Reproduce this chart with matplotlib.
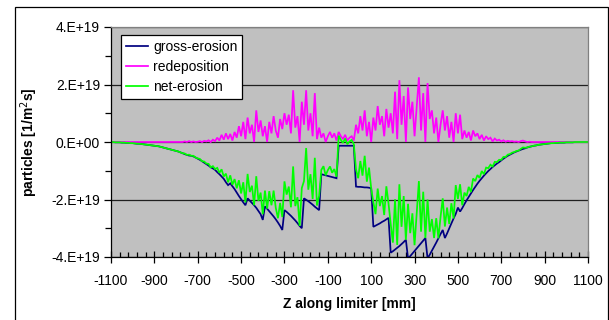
import numpy as np
import matplotlib
matplotlib.use('Agg')
import matplotlib.pyplot as plt
from matplotlib.patches import Rectangle

plt.rcParams['font.family'] = ['Liberation Sans', 'DejaVu Sans']

# ---- data (values in units of 1E19 particles / m^2 s) ----
z_start, z_stop, z_step = -1100, 1100, 10
z_mm = np.arange(z_start, z_stop + z_step, z_step)

gross_erosion = [
    0.00, 0.00, -0.01, -0.01, -0.01, -0.02, -0.02, -0.03, -0.03, -0.04,
    -0.04, -0.05, -0.06, -0.06, -0.07, -0.08, -0.09, -0.10, -0.11, -0.12,
    -0.13, -0.14, -0.15, -0.17, -0.19, -0.21, -0.23, -0.25, -0.27, -0.29,
    -0.31, -0.33, -0.36, -0.39,
    -0.42, -0.45, -0.47, -0.48, -0.50, -0.54, -0.58, -0.62, -0.67, -0.72,
    -0.77, -0.82, -0.88, -0.92, -0.97, -1.05, -1.12, -1.20, -1.28, -1.40,
    -1.50, -1.44, -1.54, -1.64, -1.76, -1.88, -1.99, -2.10, -2.20,
    -1.96, -2.04, -2.12, -2.20, -2.29, -2.40, -2.51, -2.71,
    -2.24, -2.32, -2.41, -2.50, -2.59, -2.69, -2.80, -2.92, -3.06,
    -2.37, -2.43, -2.50, -2.57, -2.65, -2.73, -2.82, -2.92, -3.00,
    -1.96, -2.01, -2.06, -2.12, -2.18, -2.25, -2.31, -2.37,
    -1.12, -1.14, -1.16, -1.18, -1.20, -1.22, -1.24, -1.26,
    -0.13, -0.13, -0.13, -0.13, -0.13, -0.13, -0.13, -0.13,
    -1.55, -1.56, -1.56, -1.57, -1.58, -1.58, -1.59, -1.61,
    -2.95, -2.91, -2.87, -2.83, -2.78, -2.74, -2.69, -2.64,
    -3.85, -3.80, -3.74, -3.68, -3.62, -3.55, -3.48, -3.40,
    -4.05, -3.97, -3.88, -3.79, -3.70, -3.61, -3.52, -3.43, -3.34,
    -4.05, -3.92, -3.78, -3.64, -3.50, -3.35, -3.20, -3.06,
    -3.34, -3.18, -3.00, -2.83, -2.66, -2.50, -2.28,
    -2.42, -2.30, -2.16, -2.03, -1.91, -1.79, -1.67, -1.56, -1.45, -1.35,
    -1.26, -1.17, -1.09, -1.01, -0.94, -0.87, -0.81, -0.75, -0.70, -0.64,
    -0.58, -0.53, -0.48, -0.44, -0.40, -0.36, -0.33, -0.30, -0.27, -0.24,
    -0.22, -0.19, -0.17,
    -0.15, -0.13, -0.12, -0.10, -0.09, -0.08, -0.07, -0.06, -0.05, -0.04,
    -0.04, -0.03, -0.03, -0.02, -0.02, -0.02, -0.01, -0.01, -0.01, -0.01,
    0.00, 0.00, 0.00, 0.00, 0.00, 0.00, 0.00,
]

redeposition = [
    0.00, 0.00, 0.00, 0.00, 0.00, 0.00, 0.00, 0.00, 0.00, 0.00,
    0.00, 0.00, 0.00, 0.00, 0.00, 0.00, 0.00, 0.00, 0.00, 0.00,
    0.00, 0.00, 0.00, 0.00, 0.00, 0.00, 0.00, 0.00, 0.00, 0.00,
    0.00, 0.00, 0.00, 0.00,
    0.02, 0.00, 0.03, 0.00, 0.02, 0.00, 0.01, 0.03, 0.00, 0.04,
    0.02, 0.06, 0.00, 0.08, 0.03, 0.15, 0.05, 0.25, 0.08, 0.30,
    0.10, 0.28, 0.05, 0.35, 0.15, 0.55, 0.20, 0.70, 0.10,
    0.85, 0.30, 0.60, 0.00, 1.10, 0.35, 0.75, 0.20,
    0.55, 0.00, 0.70, 0.30, 0.90, 0.40, 0.15, 0.80, 0.45,
    1.00, 0.60, 0.95, 0.30, 1.80, 0.50, 0.90, 0.00, 1.40,
    0.60, 1.80, 0.40, 1.00, 0.20, 1.70, 0.10, 0.50,
    0.15, 0.30, 0.00, 0.20, 0.35, 0.15, 0.30, 0.05,
    0.35, 0.20, 0.10, 0.25, 0.05, 0.15, 0.20, 0.05,
    0.60, 0.30, 0.90, 0.40, 1.10, 0.20, 0.70, 0.00,
    0.85, 0.40, 1.25, 0.60, 0.90, 0.20, 1.15, 0.50,
    1.00, 0.30, 1.75, 0.10, 2.15, 0.60, 1.60, 0.00,
    1.90, 0.80, 1.40, 0.20, 1.20, 2.25, 0.40, 1.70, 0.00,
    2.05, 0.80, 1.10, 0.30, 0.85, 0.00, 0.60, 1.10,
    0.40, 0.90, 0.15, 0.70, 0.00, 1.00, 0.30,
    0.95, 0.10, 0.40, 0.15, 0.35, 0.05, 0.40, 0.20, 0.30, 0.10,
    0.25, 0.05, 0.20, 0.10, 0.15, 0.02, 0.12, 0.05, 0.08, 0.02,
    0.06, 0.01, 0.04, 0.02, 0.03, 0.01, 0.02, 0.00, 0.03, 0.05,
    0.02, 0.00, 0.01,
    0.00, 0.00, 0.00, 0.00, 0.00, 0.00, 0.00, 0.00, 0.00, 0.00,
    0.00, 0.00, 0.00, 0.00, 0.00, 0.00, 0.00, 0.00, 0.00, 0.00,
    0.00, 0.00, 0.00, 0.00, 0.00, 0.00, 0.00,
]

net_erosion = [
    0.00, 0.00, -0.01, -0.01, -0.01, -0.02, -0.02, -0.03, -0.03, -0.04,
    -0.04, -0.05, -0.06, -0.06, -0.07, -0.08, -0.09, -0.10, -0.11, -0.12,
    -0.13, -0.14, -0.15, -0.17, -0.19, -0.21, -0.23, -0.25, -0.27, -0.29,
    -0.31, -0.33, -0.36, -0.39,
    -0.40, -0.45, -0.44, -0.48, -0.48, -0.54, -0.57, -0.59, -0.67, -0.68,
    -0.75, -0.76, -0.88, -0.84, -0.94, -0.90, -1.07, -0.95, -1.20, -1.10,
    -1.40, -1.16, -1.49, -1.29, -1.61, -1.33, -1.79, -1.40, -2.10,
    -1.11, -1.74, -1.52, -2.20, -1.19, -2.05, -1.76, -2.51,
    -1.69, -2.32, -1.71, -2.20, -1.69, -2.29, -2.65, -2.12, -2.61,
    -1.37, -1.83, -1.55, -2.27, -0.85, -2.23, -1.92, -2.92, -1.60,
    -1.36, -0.21, -1.66, -1.12, -1.98, -0.55, -2.21, -1.87,
    -0.97, -0.84, -1.16, -0.98, -0.85, -1.07, -0.94, -1.21,
    0.22, 0.07, -0.03, 0.12, -0.08, 0.02, 0.07, -0.08,
    -0.95, -1.26, -0.66, -1.17, -0.48, -1.38, -0.89, -1.61,
    -2.10, -2.51, -1.62, -2.23, -1.88, -2.54, -1.54, -2.14,
    -2.85, -3.50, -1.99, -3.58, -1.47, -2.95, -1.88, -3.40,
    -2.15, -3.17, -2.48, -3.59, -2.50, -1.36, -3.12, -1.73, -3.34,
    -2.00, -3.12, -2.68, -3.34, -2.65, -3.35, -2.60, -1.96,
    -2.94, -2.28, -2.85, -2.13, -2.66, -1.50, -1.98,
    -1.47, -2.20, -1.76, -1.88, -1.56, -1.74, -1.27, -1.36, -1.15, -1.25,
    -1.01, -1.12, -0.89, -0.91, -0.79, -0.85, -0.69, -0.70, -0.62, -0.62,
    -0.52, -0.52, -0.44, -0.42, -0.37, -0.35, -0.31, -0.30, -0.24, -0.19,
    -0.20, -0.19, -0.16,
    -0.15, -0.13, -0.12, -0.10, -0.09, -0.08, -0.07, -0.06, -0.05, -0.04,
    -0.04, -0.03, -0.03, -0.02, -0.02, -0.02, -0.01, -0.01, -0.01, -0.01,
    0.00, 0.00, 0.00, 0.00, 0.00, 0.00, 0.00,
]

series_names = ['gross-erosion', 'redeposition', 'net-erosion']
series_colors = ['#000080', '#FF00FF', '#00FF00']
unit = 1e19

x_ticks = [-1100, -900, -700, -500, -300, -100, 100, 300, 500, 700, 900, 1100]
y_ticks = [-4e19, -2e19, 0, 2e19, 4e19]
y_tick_labels = ['-4.E+19', '-2.E+19', '0.E+00', '2.E+19', '4.E+19']

# ---- figure ----
W, H = 609, 320
fig = plt.figure(figsize=(W / 100, H / 100), dpi=100)
fig.patch.set_facecolor('white')
fig.add_artist(Rectangle((15 / W, -0.1), (607.5 - 15) / W, 1.1 - 7 / H,
                         transform=fig.transFigure, fill=False,
                         edgecolor='black', linewidth=0.9, clip_on=False))

ax = fig.add_axes([111 / W, 63 / H, 477 / W, 230 / H])
ax.set_facecolor('#C0C0C0')

for vals, name, col in zip([gross_erosion, redeposition, net_erosion],
                           series_names, series_colors):
    ax.plot(z_mm, np.array(vals) * unit, color=col, lw=1.25, label=name,
            solid_joinstyle='miter')

ax.set_xlim(-1100, 1100)
ax.set_ylim(-4e19, 4e19)
ax.set_xticks(x_ticks)
ax.set_xticklabels([str(v) for v in x_ticks])
ax.set_xticks(np.arange(-1100, 1101, 40), minor=True)
ax.set_yticks(y_ticks)
ax.set_yticklabels(y_tick_labels)
ax.set_yticks([-3e19, -1e19, 1e19, 3e19], minor=True)

for yv in y_ticks:
    ax.axhline(yv, color='#202020', lw=0.9, zorder=1.5)

ax.tick_params(axis='x', which='major', direction='inout', length=9,
               width=0.9, labelsize=10, pad=8)
ax.tick_params(axis='x', which='minor', direction='in', length=3.5, width=0.9)
ax.tick_params(axis='y', which='major', direction='out', length=5,
               width=0.9, labelsize=10, pad=3)
ax.tick_params(axis='y', which='minor', direction='out', length=4, width=0.9)

for s in ['left', 'bottom']:
    ax.spines[s].set_color('black')
    ax.spines[s].set_linewidth(0.9)
for s in ['top', 'right']:
    ax.spines[s].set_color('#808080')
    ax.spines[s].set_linewidth(0.9)

ax.set_xlabel('Z along limiter [mm]', fontsize=10, fontweight='bold', labelpad=6)
fig.text(29 / W, 1 - 142 / H, 'particles [1/m$^2$s]', rotation=90,
         ha='center', va='center', fontsize=10, fontweight='bold')

leg = ax.legend(loc='upper left', bbox_to_anchor=(10 / 477, 1 - 8 / 230),
                borderaxespad=0, fontsize=10, frameon=True, fancybox=False,
                edgecolor='black', facecolor='white', framealpha=1,
                handlelength=1.6, handletextpad=0.35, labelspacing=0.45,
                borderpad=0.35)
leg.get_frame().set_linewidth(0.9)

fig.savefig('out.png', dpi=100)
